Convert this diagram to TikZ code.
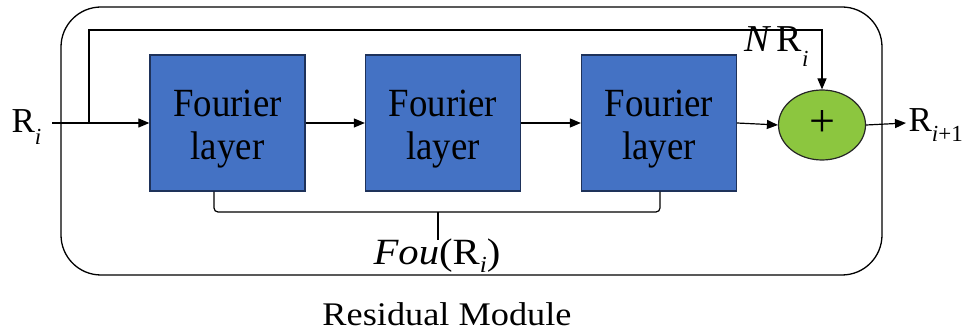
\documentclass[tikz,border=0pt]{standalone}
\usepackage{fontspec}
\setmainfont{Liberation Serif}
\usetikzlibrary{arrows.meta,shapes.geometric,calc}
\definecolor{boxblue}{RGB}{68,114,196}
\definecolor{boxedge}{RGB}{30,50,90}
\definecolor{sumgreen}{RGB}{140,198,63}
\newcommand{\sx}[2][1.1]{\scalebox{#1}[1]{#2}}
\newcommand{\subi}[2][11pt]{\raisebox{-#1}{\fontsize{23}{23}\selectfont #2}}
\begin{document}
\begin{tikzpicture}[x=1pt,y=-1pt,
  line width=1.2pt,
  arr/.style={-{Triangle[length=11pt,width=9pt]}},
  fbox/.style={draw=boxedge,fill=boxblue,line width=1.3pt,minimum width=155pt,minimum height=136pt,inner sep=0pt},
  ftxt/.style={inner sep=0pt,align=center,font=\fontsize{40}{43}\selectfont},
  lbl/.style={inner sep=0pt,anchor=base,font=\fontsize{35}{35}\selectfont},
  sumnode/.style={draw=black!85,fill=sumgreen,ellipse,minimum width=87pt,minimum height=70pt,inner sep=0pt,line width=1.2pt}
  ]
\useasboundingbox (0,0) rectangle (964,331);
\draw[line width=1.3pt,rounded corners=40pt] (61,7) rectangle (882,275);

\node[fbox] (b1) at (227.5,123) {};
\node[fbox] (b2) at (443,123) {};
\node[fbox] (b3) at (659,123) {};
\node[ftxt] (t1) at ($(b1.center)+(0,6)$) {\sx[0.92]{Fourier}\\\sx[0.92]{layer}};
\node[ftxt] (t2) at ($(b2.center)+(0,6)$) {\sx[0.92]{Fourier}\\\sx[0.92]{layer}};
\node[ftxt] (t3) at ($(b3.center)+(0,6)$) {\sx[0.92]{Fourier}\\\sx[0.92]{layer}};
\node[sumnode] (sum) at (822,125) {};
\node[inner sep=0pt,font=\fontsize{46}{46}\selectfont] (plus) at ($(sum.center)+(0,-1)$) {+};

\node[lbl,anchor=base west] (rin) at (11,133) {R\subi[12pt]{\textit{i}}};
\node[lbl,anchor=base west,font=\fontsize{38}{38}\selectfont] (nri) at (744,52) {\textit{N}\hspace{5pt}R\subi[15pt]{\textit{i}}};
\node[lbl,anchor=base west] (rout) at (908,132) {R\subi[10pt]{\textit{i}+1}};
\node[lbl,anchor=base west,font=\fontsize{37}{37}\selectfont] (fou) at (373,265) {\sx{\textit{Fou}(R\subi[8pt]{\textit{i}})}};
\node[lbl,font=\fontsize{33}{33}\selectfont] (title) at (447,325) {\sx[1.1]{Residual Module}};

\coordinate (in) at (52,123);
\coordinate (sp) at (89,123);
\coordinate (out) at (906,123);
\draw[arr] (in) -- (b1.west);
\draw[arr] (b1.east) -- (b2.west);
\draw[arr] (b2.east) -- (b3.west);
\draw[arr] (b3.east) -- (sum.west);
\draw[arr] (sum.east) -- (out);
\draw[arr] (sp) -- ++(0,-93) -| (sum.north);

\coordinate (bl) at (214,212);
\coordinate (br) at (660,212);
\coordinate (bm) at (438,212);
\draw[rounded corners=4pt] (b1.south -| bl) -- (bl) -- (br) -- (b3.south -| br);
\draw (bm) -- ++(0,28);
\end{tikzpicture}
\end{document}
